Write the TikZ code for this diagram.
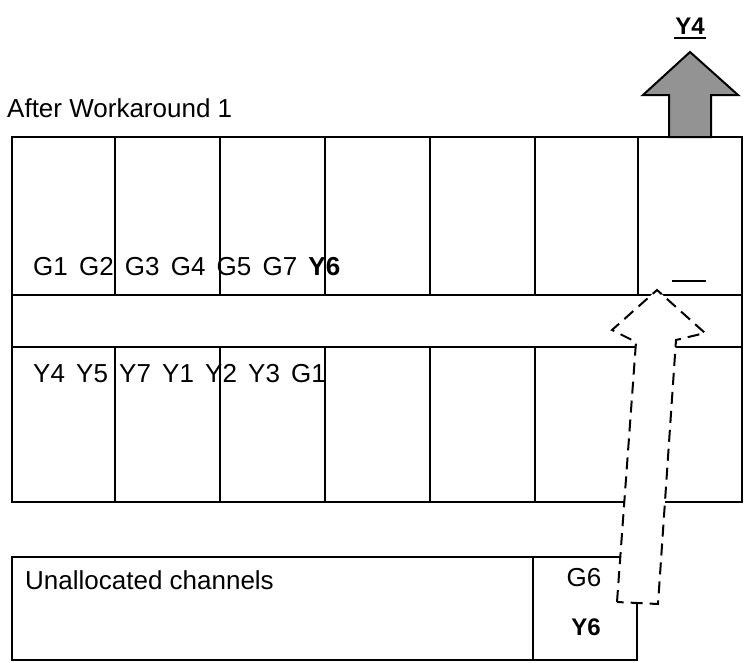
\documentclass[tikz,border=0pt]{standalone}
\usepackage{fontspec}
\setmainfont{Liberation Sans}
\newfontfamily\rowfont[WordSpace=1.55]{Liberation Sans}
\begin{document}
\begin{tikzpicture}[x=1pt,y=-1pt,
  lbl/.style={font=\fontsize{26}{30}\selectfont, inner sep=0pt},
  row/.style={inner sep=0pt, font=\rowfont\fontsize{26}{30}\selectfont},
  frame/.style={line width=2pt},
  grid/.style={line width=1.2pt}]
\useasboundingbox (0,0) rectangle (745,662);
% main channel box
\draw[frame] (12,137) rectangle (742,502);
\foreach \x in {115,220,325,430,535,638}
  \draw[grid] (\x,137) -- (\x,295) (\x,347) -- (\x,502);
\draw[grid] (12,295) -- (742,295) (12,347) -- (742,347);
\node[lbl, anchor=west] (title) at (7,108) {After Workaround 1};
\node[row, anchor=west] (row1) at (33,267) {G1 G2 G3 G4 G5 G7 \textbf{Y6}};
\node[row, anchor=west] (row2) at (33,374) {Y4 Y5 Y7 Y1 Y2 Y3 G1};
\draw[grid] (672,281) -- (706,281);
% outgoing arrow
\draw[frame, fill=gray!85] (669,137) -- (669,95) -- (643,95) -- (690,52)
  -- (738,95) -- (711,95) -- (711,137) -- cycle;
\node[lbl, font=\fontsize{24}{28}\selectfont\bfseries] (y4) at (690,26) {Y4};
\draw[grid] (674,38) -- (706,38);
% unallocated channels
\draw[frame] (533,557) -- (12,557) -- (12,660) -- (637,660) -- (637,603);
\draw[frame] (533,557) -- (620,557);
\draw[frame] (533,557) -- (533,660);
\node[lbl, anchor=west] (unalloc) at (25,580) {Unallocated channels};
\node[lbl] (g6) at (584,578) {G6};
\node[lbl, font=\fontsize{24}{28}\selectfont\bfseries] (y6) at (586,627) {Y6};
% dashed move arrow
\draw[frame, dash pattern=on 12pt off 7pt, fill=white]
  (617,602) -- (636,342) -- (612,330) -- (657,290) -- (705,333)
  -- (676,340) -- (658,604) -- cycle;
\end{tikzpicture}
\end{document}
